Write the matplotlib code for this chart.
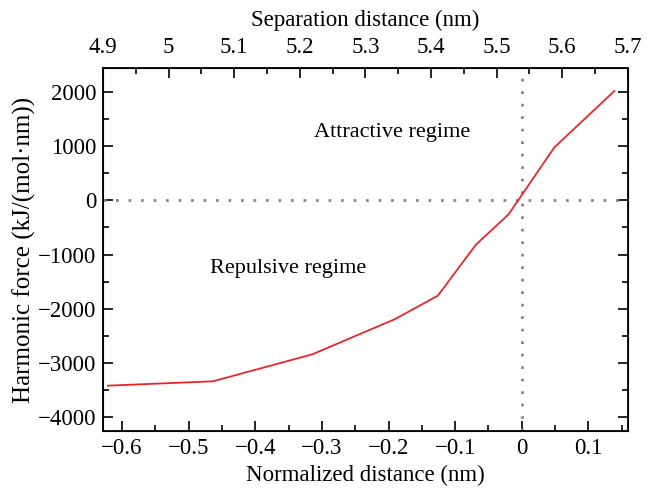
import matplotlib
matplotlib.use('Agg')
from matplotlib import pyplot as plt
from matplotlib.ticker import MultipleLocator

# values
norm_dist = [-0.621, -0.4635, -0.314, -0.19, -0.126, -0.069, -0.02, 0.049, 0.139]
force = [-3420, -3340, -2840, -2190, -1760, -820, -260, 980, 2020]

sep_ticks = [4.9, 5.0, 5.1, 5.2, 5.3, 5.4, 5.5, 5.6, 5.7]
sep_labels = ['4.9', '5', '5.1', '5.2', '5.3', '5.4', '5.5', '5.6', '5.7']

plt.rcParams['font.family'] = ['Liberation Serif', 'DejaVu Serif']
plt.rcParams['font.size'] = 16.5

fig = plt.figure(figsize=(6.58, 4.91), dpi=100)
ax = fig.add_axes([0.1565, 0.122, 0.7975, 0.7395])

ax.axhline(0, color='#888888', ls=(0, (1, 3.5)), lw=2)
ax.axvline(0, color='#888888', ls=(0, (1, 3.5)), lw=2)
ax.plot(norm_dist, force, color='#e8262b', lw=1.3)

ax.set_xlim(-0.6285, 0.159)
ax.set_ylim(-4259, 2444)
ax.xaxis.set_minor_locator(MultipleLocator(0.05))
ax.yaxis.set_major_locator(MultipleLocator(1000))
ax.yaxis.set_minor_locator(MultipleLocator(500))
ax.set_xticks([-0.6, -0.5, -0.4, -0.3, -0.2, -0.1, 0, 0.1])
ax.set_xticklabels(['\u22120.6', '\u22120.5', '\u22120.4', '\u22120.3', '\u22120.2', '\u22120.1', '0', '0.1'])
ax.tick_params(which='major', direction='in', length=7, width=1.2, top=False, right=True, pad=5)
ax.tick_params(which='minor', direction='in', length=4, width=1.2, top=False, right=True)
for s in ax.spines.values():
    s.set_linewidth(1.3)

ax.set_xlabel('Normalized distance (nm)', labelpad=4)
ax.set_ylabel('Harmonic force (kJ/(mol\u00b7nm))', labelpad=1, fontsize=18)

top = ax.twiny()
top.set_xlim(4.9, 5.7)
top.set_xticks(sep_ticks)
top.set_xticklabels(sep_labels)
top.xaxis.set_minor_locator(MultipleLocator(0.05))
top.tick_params(which='major', direction='in', length=7, width=1.2, pad=7)
top.tick_params(which='minor', direction='in', length=4, width=1.2)
top.set_xlabel('Separation distance (nm)', labelpad=8)

ax.text(-0.195, 1260, 'Attractive regime', ha='center', va='center', fontsize=16)
ax.text(-0.35, -1260, 'Repulsive regime', ha='center', va='center', fontsize=16)

fig.savefig('out.png', dpi=100)
